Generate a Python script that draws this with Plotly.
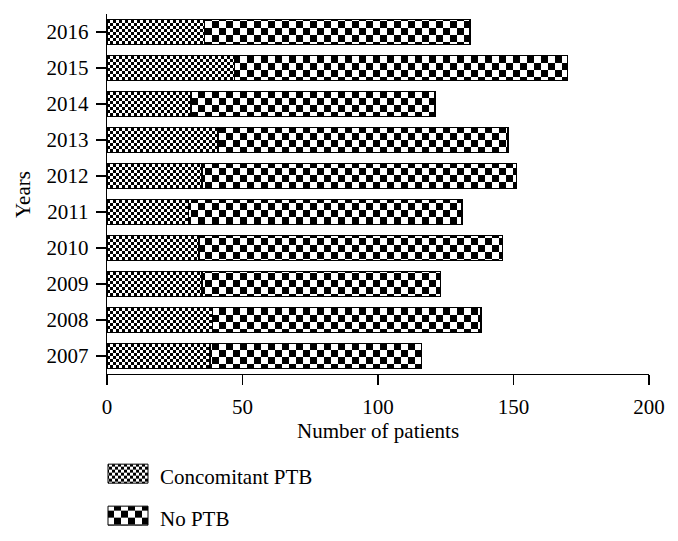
import plotly.graph_objects as go

years = ["2007", "2008", "2009", "2010", "2011", "2012", "2013", "2014", "2015", "2016"]
concomitant_ptb = [38, 39, 35, 34, 30, 35, 41, 31, 47, 36]
no_ptb = [78, 99, 88, 112, 101, 116, 107, 90, 123, 98]
x_ticks = [0, 50, 100, 150, 200]

FONT = "Liberation Serif"

fig = go.Figure()
fig.add_trace(go.Bar(
    y=years, x=concomitant_ptb, orientation="h", name="Concomitant PTB",
    marker=dict(color="white", line=dict(color="black", width=1.3),
                pattern=dict(shape="+", fgcolor="black", size=5, solidity=0.5)),
    width=0.68, legend="legend", showlegend=True,
))
fig.add_trace(go.Bar(
    y=years, x=no_ptb, orientation="h", name="No PTB",
    marker=dict(color="white", line=dict(color="black", width=1.3),
                pattern=dict(shape="+", fgcolor="black", size=12, solidity=0.5)),
    width=0.68, legend="legend2", showlegend=True,
))

fig.update_layout(
    width=678, height=541,
    barmode="stack",
    showlegend=True,
    plot_bgcolor="white", paper_bgcolor="white",
    margin=dict(l=107, r=29, t=14, b=167, autoexpand=False),
    font=dict(family=FONT, size=21, color="black"),
    xaxis=dict(range=[0, 200], tickvals=x_ticks, ticks="outside", ticklen=10,
               tickwidth=1.3, tickcolor="black", showline=True, linecolor="black",
               linewidth=1.3, showgrid=False, zeroline=False, automargin=False,
               ticklabelstandoff=3, tickfont=dict(family=FONT, size=21)),
    yaxis=dict(type="category", range=[-0.5, 9.5], ticks="outside", ticklen=10,
               tickwidth=1.3, tickcolor="black", showline=True, linecolor="black",
               linewidth=1.3, showgrid=False, zeroline=False, automargin=False,
               ticklabelstandoff=3, tickfont=dict(family=FONT, size=21)),
    legend=dict(x=100 / 678, y=1 - 476 / 541, xref="container", yref="container",
                xanchor="left", yanchor="middle", bgcolor="rgba(0,0,0,0)",
                itemwidth=50, font=dict(family=FONT, size=21)),
    legend2=dict(x=100 / 678, y=1 - 518 / 541, xref="container", yref="container",
                 xanchor="left", yanchor="middle", bgcolor="rgba(0,0,0,0)",
                 itemwidth=50, font=dict(family=FONT, size=21)),
    annotations=[
        dict(text="Years", xref="paper", yref="paper", x=-0.155, y=0.5,
             textangle=-90, showarrow=False, xanchor="center", yanchor="middle",
             font=dict(family=FONT, size=21)),
        dict(text="Number of patients", xref="paper", yref="paper", x=0.5, y=-0.158,
             showarrow=False, xanchor="center", yanchor="middle",
             font=dict(family=FONT, size=21)),
    ],
)

post = r"""
document.body.style.margin = '0';
document.body.style.padding = '0';
var gd = document.getElementById('{plot_id}');
function applyChecker(){
  var ns = 'http://www.w3.org/2000/svg';
  var svg = gd.querySelector('svg.main-svg');
  if (!svg) return;
  var defs = svg.querySelector('defs');
  function mk(id, s){
    if (document.getElementById(id)) return;
    var p = document.createElementNS(ns, 'pattern');
    p.setAttribute('id', id);
    p.setAttribute('patternUnits', 'userSpaceOnUse');
    p.setAttribute('width', 2*s); p.setAttribute('height', 2*s);
    [[0,0,2*s,2*s,'#ffffff'],[0,0,s,s,'#000000'],[s,s,s,s,'#000000']].forEach(function(r){
      var e = document.createElementNS(ns, 'rect');
      e.setAttribute('x', r[0]); e.setAttribute('y', r[1]);
      e.setAttribute('width', r[2]); e.setAttribute('height', r[3]);
      e.setAttribute('fill', r[4]);
      p.appendChild(e);
    });
    defs.appendChild(p);
  }
  mk('chkFine', 3); mk('chkCoarse', 7);
  var ids = ['chkFine', 'chkCoarse'];
  gd.querySelectorAll('.barlayer .trace').forEach(function(t, i){
    t.querySelectorAll('.point path').forEach(function(p){
      p.style.fill = 'url(#' + ids[i] + ')';
      p.style.fillOpacity = 1;
    });
  });
  var legs = [gd.querySelector('g.legend'), gd.querySelector('g.legend2')];
  legs.forEach(function(lg, i){
    if (!lg) return;
    lg.querySelectorAll('g.traces').forEach(function(tr){
      tr.querySelectorAll('g.legendpoints path').forEach(function(p){
        p.setAttribute('d', 'M8,-11.5H48V7.5H8Z');
        p.setAttribute('transform', 'translate(0,0)');
        p.style.fill = 'url(#' + ids[i] + ')';
        p.style.fillOpacity = 1;
        p.style.stroke = '#000';
        p.style.strokeWidth = '1px';
      });
    });
  });
}
applyChecker();
gd.on('plotly_afterplot', applyChecker);
setTimeout(applyChecker, 100);
setTimeout(applyChecker, 500);
"""

fig.write_html("out.html", post_script=post,
               config={"displayModeBar": False, "staticPlot": True})
